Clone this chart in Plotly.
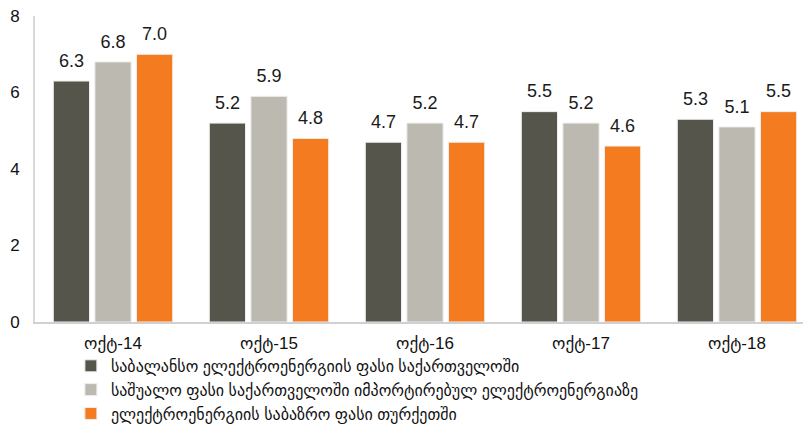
import plotly.graph_objects as go

categories = ["ოქტ-14", "ოქტ-15", "ოქტ-16", "ოქტ-17", "ოქტ-18"]
series_names = [
    "საბალანსო ელექტროენერგიის ფასი საქართველოში",
    "საშუალო ფასი საქართველოში იმპორტირებულ ელექტროენერგიაზე",
    "ელექტროენერგიის საბაზრო ფასი თურქეთში",
]
balance_price = [6.3, 5.2, 4.7, 5.5, 5.3]
import_price = [6.8, 5.9, 5.2, 5.2, 5.1]
turkey_price = [7.0, 4.8, 4.7, 4.6, 5.5]
y_ticks = [0, 2, 4, 6, 8]

colors = ["#55554b", "#bcb9b1", "#f47b20"]
values = [balance_price, import_price, turkey_price]
groups = ["a", "b", "c"]

font_family = "Arial, Liberation Sans, DejaVu Sans, sans-serif"

fig = go.Figure()
for name, vals, col, g in zip(series_names, values, colors, groups):
    fig.add_trace(go.Bar(
        x=categories, y=vals, name=name,
        marker=dict(color=col, line=dict(color="#eeeeee", width=1)),
        offsetgroup=g, alignmentgroup="all",
    ))
for vals, g in zip(values, groups):
    fig.add_trace(go.Scatter(
        x=categories, y=vals, mode="markers+text",
        marker=dict(size=14, color="rgba(0,0,0,0)"),
        text=[f"{v:.1f}" for v in vals],
        textposition="top center",
        textfont=dict(size=18, color="#1a1a1a", family=font_family),
        offsetgroup=g, alignmentgroup="all",
        showlegend=False, hoverinfo="skip", cliponaxis=False,
    ))

fig.update_layout(
    width=811, height=425,
    margin=dict(l=27, r=4, t=8, b=111, autoexpand=False),
    paper_bgcolor="white", plot_bgcolor="white",
    barmode="group", bargap=0.20, bargroupgap=0.13,
    scattermode="group", scattergap=0.20,
    font=dict(family=font_family, size=17, color="#111111"),
    showlegend=True,
    legend=dict(
        orientation="v", x=0.046, y=-0.088, xanchor="left", yanchor="top",
        font=dict(size=16, color="#111111", family=font_family),
        itemwidth=30, tracegroupgap=0, bgcolor="rgba(0,0,0,0)",
    ),
)
fig.update_xaxes(
    range=[-0.5, 4.5], automargin=False,
    showline=True, linecolor="#d0d0d0", linewidth=2,
    ticks="", tickfont=dict(size=17, color="#111111"),
    showgrid=False, ticklabelstandoff=5, ticklabeloverflow="allow",
)
fig.update_yaxes(
    range=[0, 8], tickvals=y_ticks, ticktext=[str(t) for t in y_ticks],
    automargin=False, ticklabeloverflow="allow",
    showline=True, linecolor="#d9d9d9", linewidth=2,
    showgrid=False, zeroline=False, ticks="",
    tickfont=dict(size=17, color="#111111"), ticklabelstandoff=10,
)

fig.write_html("out.html")
